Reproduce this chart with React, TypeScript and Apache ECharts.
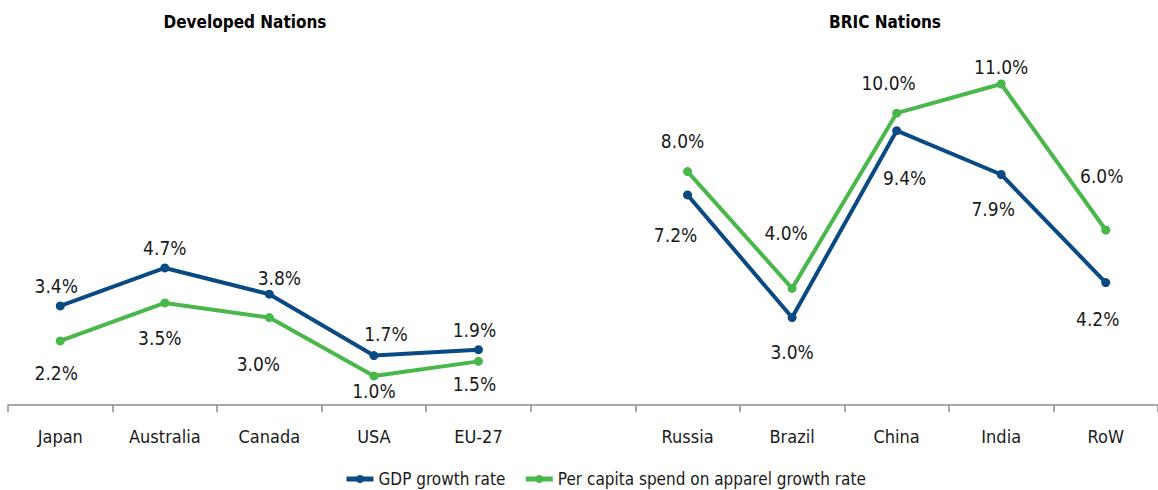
import React, { useEffect, useRef } from "react";
import * as echarts from "echarts";

const categories = ["Japan", "Australia", "Canada", "USA", "EU-27", "", "Russia", "Brazil", "China", "India", "RoW"];
const gdpGrowth: (number | null)[] = [3.4, 4.7, 3.8, 1.7, 1.9, null, 7.2, 3.0, 9.4, 7.9, 4.2];
const apparelGrowth: (number | null)[] = [2.2, 3.5, 3.0, 1.0, 1.5, null, 8.0, 4.0, 10.0, 11.0, 6.0];
const seriesNames = ["GDP growth rate", "Per capita spend on apparel growth rate"];
const groupTitles = ["Developed Nations", "BRIC Nations"];

// label offsets (pixels) relative to each point
const gdpLabelOffsets = [[-4, -20], [0, -20], [10, -16], [12, -22], [-4, -20], [0, 0], [-12, 40], [0, 34], [8, 47], [-8, 34], [-8, 36]];
const apparelLabelOffsets = [[-4, 32], [-5, 35], [-11, 46], [0, 15], [-4, 23], [0, 0], [-5, -31], [-6, -55], [-8, -30], [0, -17], [-4, -54]];

const FONT = "'Liberation Sans Narrow', 'Arial Narrow', 'DejaVu Sans Condensed', sans-serif";
const BLUE = "#0a4a84";
const GREEN = "#4ab74a";

function buildData(values: (number | null)[], offsets: number[][]) {
  return values.map((v, i) => ({
    value: v,
    label: { offset: offsets[i] },
  }));
}

export default function App() {
  const ref = useRef<HTMLDivElement>(null);
  useEffect(() => {
    if (!ref.current) return;
    const chart = echarts.init(ref.current, undefined, { renderer: "svg" });
    const labelCommon = {
      show: true,
      position: "inside",
      align: "center",
      verticalAlign: "middle",
      fontFamily: FONT,
      fontSize: 19,
      color: "#1a1a1a",
      formatter: (p: any) => (p.value == null ? "" : Number(p.value).toFixed(1) + "%"),
    };
    chart.setOption({
      animation: false,
      backgroundColor: "#ffffff",
      textStyle: { fontFamily: FONT },
      graphic: [
        {
          type: "text",
          x: 245,
          y: 22,
          style: { text: groupTitles[0], font: `bold 17px ${FONT}`, fill: "#000", textAlign: "center", textVerticalAlign: "middle" },
        },
        {
          type: "text",
          x: 885,
          y: 22,
          style: { text: groupTitles[1], font: `bold 17px ${FONT}`, fill: "#000", textAlign: "center", textVerticalAlign: "middle" },
        },
      ],
      legend: {
        left: 344,
        top: 470,
        padding: 0,
        itemWidth: 27,
        itemHeight: 10,
        itemGap: 18,
        lineStyle: { width: 5 },
        textStyle: { fontFamily: FONT, fontSize: 17, lineHeight: 18, color: "#1a1a1a" },
        data: seriesNames,
      },
      grid: { left: 8, top: 54.8, width: 1155, height: 352.7, containLabel: false },
      xAxis: {
        type: "category",
        data: categories,
        boundaryGap: true,
        axisLine: { lineStyle: { color: "#8c8c8c", width: 1.5 } },
        axisTick: { show: true, length: 7, lineStyle: { color: "#8c8c8c", width: 1.5 } },
        axisLabel: { margin: 20, fontFamily: FONT, fontSize: 18, color: "#1a1a1a", interval: 0 },
      },
      yAxis: {
        type: "value",
        min: -0.08,
        max: 12,
        show: false,
        splitLine: { show: false },
      },
      series: [
        {
          name: seriesNames[0],
          type: "line",
          data: buildData(gdpGrowth, gdpLabelOffsets),
          symbol: "circle",
          symbolSize: 9,
          connectNulls: false,
          itemStyle: { color: BLUE },
          lineStyle: { color: BLUE, width: 4 },
          label: labelCommon,
          z: 3,
        },
        {
          name: seriesNames[1],
          type: "line",
          data: buildData(apparelGrowth, apparelLabelOffsets),
          symbol: "circle",
          symbolSize: 9,
          connectNulls: false,
          itemStyle: { color: GREEN },
          lineStyle: { color: GREEN, width: 4 },
          label: labelCommon,
          z: 2,
        },
      ],
    });
    return () => chart.dispose();
  }, []);
  return <div ref={ref} style={{ position: "absolute", left: 0, top: 0, width: 1158, height: 490 }} />;
}
